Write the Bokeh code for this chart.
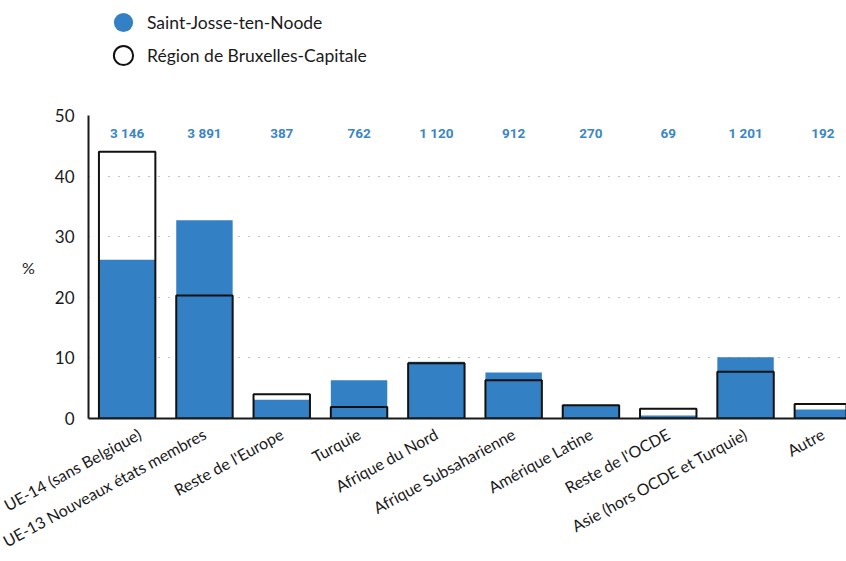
from bokeh.plotting import figure
from bokeh.layouts import column
from bokeh.models import Range1d, FixedTicker, Legend, LegendItem, ColumnDataSource
from bokeh.core.properties import value
from bokeh.embed import file_html
from bokeh.resources import INLINE

categories = ["UE-14 (sans Belgique)", "UE-13 Nouveaux états membres", "Reste de l'Europe",
              "Turquie", "Afrique du Nord", "Afrique Subsaharienne", "Amérique Latine",
              "Reste de l'OCDE", "Asie (hors OCDE et Turquie)", "Autre"]
saint_josse = [26.2, 32.7, 3.1, 6.3, 9.35, 7.6, 2.2, 0.5, 10.1, 1.5]
region = [44.0, 20.3, 4.0, 1.9, 9.1, 6.3, 2.2, 1.6, 7.7, 2.4]
counts = [3146, 3891, 387, 762, 1120, 912, 270, 69, 1201, 192]
y_ticks = [0, 10, 20, 30, 40, 50]
series_names = ["Saint-Josse-ten-Noode", "Région de Bruxelles-Capitale"]

BLUE = "#3380c4"
LABEL_BLUE = "#3a86c6"
DARK = "#1a1a1a"
FONT = "Lato"
COUNT_FONT = "Roboto"
W = 846

xs = list(range(len(categories)))
count_labels = [f"{c:,}".replace(",", " ") for c in counts]
label_y = [47.1] * len(categories)

src = ColumnDataSource(dict(x=xs, sj=saint_josse, reg=region, lab=count_labels, ly=label_y))

# ---- legend strip ----
lg = figure(width=W, height=100, output_backend="svg", toolbar_location=None,
            x_range=Range1d(0, 1), y_range=Range1d(0, 1),
            min_border=0, min_border_left=0, min_border_right=0,
            min_border_top=0, min_border_bottom=0)
lg.axis.visible = False
lg.grid.visible = False
lg.outline_line_color = None
hidden = dict(x=[-5], y=[-5])
leg_sj = lg.scatter(x="x", y="y", source=ColumnDataSource(hidden), size=19,
                    fill_color=BLUE, line_color=None)
leg_reg = lg.scatter(x="x", y="y", source=ColumnDataSource(hidden), size=19,
                     fill_color="white", line_color="#111111", line_width=2)
for name, rend, loc in [(series_names[0], leg_sj, (11, 54)), (series_names[1], leg_reg, (11, 21))]:
    lgd = Legend(items=[LegendItem(label=name, renderers=[rend])],
                 location=loc, orientation="vertical",
                 glyph_width=48, glyph_height=48, spacing=0, label_standoff=-8,
                 padding=0, margin=0, border_line_color=None, background_fill_alpha=0,
                 label_text_font=FONT, label_text_font_size="17.5px", label_text_color=DARK)
    lg.add_layout(lgd, "center")

# ---- main chart ----
p = figure(width=W, height=461, output_backend="svg", toolbar_location=None,
           x_range=Range1d(-0.5, 9.306), y_range=Range1d(0, 50),
           min_border_left=88, min_border_right=0, min_border_top=15, min_border_bottom=143)
p.outline_line_color = None
p.background_fill_color = "white"
p.border_fill_color = "white"

p.vbar(x="x", top="sj", width=0.73, bottom=0, source=src,
       fill_color=BLUE, line_color=None)
p.vbar(x="x", top="reg", width=0.73, bottom=0, source=src,
       fill_color=None, line_color="#111111", line_width=2)

p.text(x="x", y="ly", text="lab", source=src, text_align="center", text_baseline="middle",
       text_font=value(COUNT_FONT), text_font_style="bold",
       text_font_size="13.5px", text_color=LABEL_BLUE)

p.yaxis.ticker = FixedTicker(ticks=y_ticks)
p.yaxis.major_tick_line_color = None
p.yaxis.minor_tick_line_color = None
p.yaxis.axis_line_width = 2
p.yaxis.axis_line_color = DARK
p.yaxis.major_label_text_font = FONT
p.yaxis.major_label_text_font_size = "17px"
p.yaxis.major_label_text_color = DARK
p.yaxis.major_label_standoff = 8
p.yaxis.axis_label = "%"
p.yaxis.axis_label_orientation = "horizontal"
p.yaxis.axis_label_text_font = FONT
p.yaxis.axis_label_text_font_style = "normal"
p.yaxis.axis_label_text_font_size = "16px"
p.yaxis.axis_label_text_color = DARK
p.yaxis.axis_label_standoff = 17

p.xaxis.ticker = FixedTicker(ticks=xs)
p.xaxis.major_label_overrides = {i: c for i, c in zip(xs, categories)}
p.xaxis.major_tick_line_color = None
p.xaxis.minor_tick_line_color = None
p.xaxis.axis_line_width = 2
p.xaxis.axis_line_color = DARK
p.xaxis.major_label_orientation = 0.5
p.xaxis.major_label_text_font = FONT
p.xaxis.major_label_text_font_size = "16px"
p.xaxis.major_label_text_color = DARK
p.xaxis.major_label_standoff = 8

p.xgrid.visible = False
p.ygrid.ticker = FixedTicker(ticks=y_ticks)
p.ygrid.grid_line_color = "#888888"
p.ygrid.grid_line_dash = "1 9"
p.ygrid.grid_line_width = 1

layout = column(lg, p, spacing=0)
open("out.html", "w").write(file_html(layout, INLINE))
